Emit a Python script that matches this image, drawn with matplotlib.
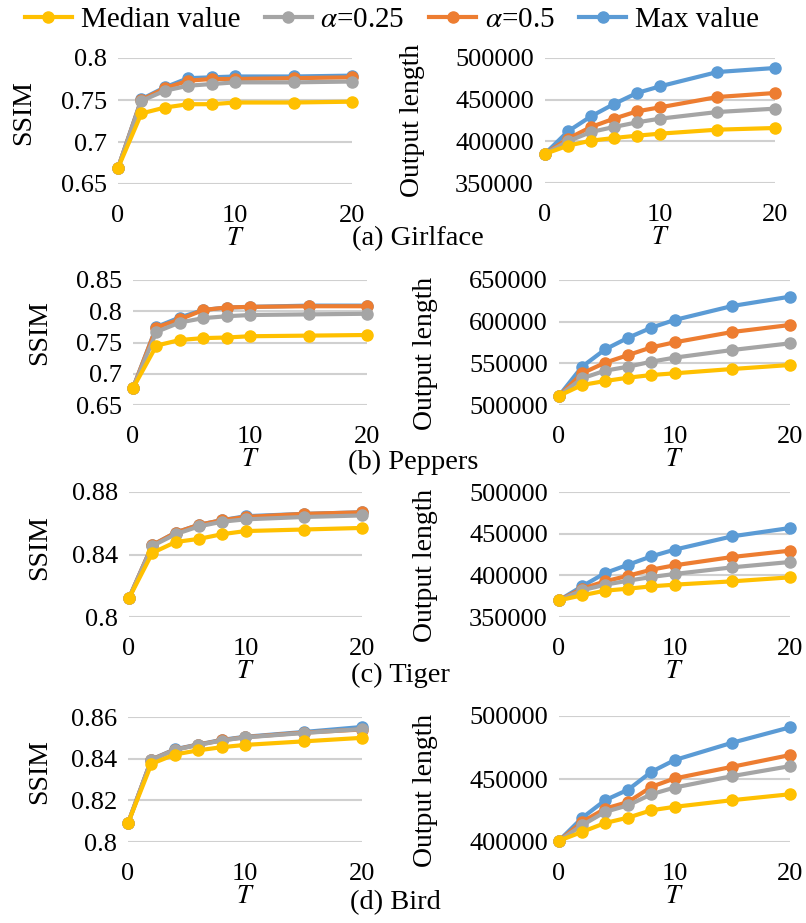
import numpy as np
import matplotlib
matplotlib.use("Agg")
import matplotlib.pyplot as plt

plt.rcParams['font.family'] = ['Liberation Serif', 'DejaVu Serif']
plt.rcParams['mathtext.fontset'] = 'stix'

T = [0, 2, 4, 6, 8, 10, 15, 20]
series_names = ['Median value', r'$\alpha$=0.25', r'$\alpha$=0.5', 'Max value']
colors = ['#FFC000', '#A5A5A5', '#ED7D31', '#5B9BD5']
images = ['(a) Girlface', '(b) Peppers', '(c) Tiger', '(d) Bird']

# SSIM, order: median, a=0.25, a=0.5, max
ssim_girlface = [
    [0.669, 0.734, 0.741, 0.745, 0.745, 0.747, 0.747, 0.748],
    [0.669, 0.749, 0.761, 0.767, 0.769, 0.771, 0.771, 0.772],
    [0.669, 0.750, 0.764, 0.773, 0.775, 0.775, 0.776, 0.777],
    [0.669, 0.751, 0.765, 0.776, 0.777, 0.778, 0.778, 0.779],
]
ssim_peppers = [
    [0.677, 0.745, 0.754, 0.757, 0.758, 0.760, 0.761, 0.762],
    [0.677, 0.767, 0.782, 0.789, 0.792, 0.794, 0.795, 0.796],
    [0.677, 0.774, 0.787, 0.802, 0.806, 0.807, 0.808, 0.808],
    [0.677, 0.775, 0.790, 0.802, 0.806, 0.807, 0.809, 0.809],
]
ssim_tiger = [
    [0.812, 0.841, 0.848, 0.850, 0.853, 0.855, 0.856, 0.857],
    [0.812, 0.8455, 0.853, 0.858, 0.861, 0.8625, 0.864, 0.865],
    [0.812, 0.846, 0.854, 0.859, 0.862, 0.864, 0.866, 0.867],
    [0.812, 0.846, 0.854, 0.859, 0.862, 0.8645, 0.866, 0.867],
]
ssim_bird = [
    [0.809, 0.8375, 0.842, 0.844, 0.8455, 0.8466, 0.8483, 0.850],
    [0.809, 0.8394, 0.8442, 0.8466, 0.8487, 0.8502, 0.8523, 0.8542],
    [0.809, 0.8395, 0.8443, 0.8467, 0.8488, 0.8503, 0.8525, 0.854],
    [0.809, 0.8396, 0.8445, 0.8468, 0.849, 0.8505, 0.8528, 0.8552],
]

# output length
len_girlface = [
    [385000, 394800, 400800, 404000, 406800, 409200, 414000, 416000],
    [385000, 400000, 411200, 417200, 422800, 427200, 435200, 439200],
    [385000, 403200, 417200, 427200, 436000, 440800, 453200, 458000],
    [385000, 412000, 430000, 444800, 458000, 466000, 483200, 488000],
]
len_peppers = [
    [511000, 524000, 528800, 532800, 536000, 538000, 543200, 548000],
    [511000, 532000, 541200, 546000, 552000, 556800, 566000, 574000],
    [511000, 538000, 550800, 560000, 569200, 575200, 587600, 596000],
    [511000, 546000, 566800, 580800, 592800, 602000, 618800, 630000],
]
len_tiger = [
    [370000, 376000, 381600, 384000, 386800, 388800, 392800, 397600],
    [370000, 382000, 388800, 393600, 398000, 401600, 409600, 416000],
    [370000, 384000, 392800, 399600, 406800, 412000, 422000, 429600],
    [370000, 386800, 402800, 412800, 422800, 430800, 446800, 456800],
]
len_bird = [
    [401000, 408000, 415100, 419400, 425200, 427900, 433200, 437900],
    [401000, 413300, 423900, 429200, 437900, 443200, 452300, 460200],
    [401000, 415900, 426500, 431800, 443800, 450400, 459700, 469000],
    [401000, 419100, 433200, 441600, 455700, 465000, 478800, 491000],
]

ssim_data = [ssim_girlface, ssim_peppers, ssim_tiger, ssim_bird]
len_data = [len_girlface, len_peppers, len_tiger, len_bird]
ssim_ticks = [[0.65, 0.7, 0.75, 0.8], [0.65, 0.7, 0.75, 0.8, 0.85],
              [0.8, 0.84, 0.88], [0.8, 0.82, 0.84, 0.86]]
len_ticks = [[350000, 400000, 450000, 500000], [500000, 550000, 600000, 650000],
             [350000, 400000, 450000, 500000], [400000, 450000, 500000]]

W, H = 806, 923
# pixel boxes: (x0, x1, ytop, ybottom)
left_boxes = [(118, 352, 58, 184), (133, 367, 280, 405),
              (129, 362, 492, 617), (128, 362, 717, 842)]
right_boxes = [(545, 775, 58, 183), (559, 790, 280, 405),
               (559, 790, 492, 617), (559, 790, 716, 842)]
ssim_lab = [(24, 113), (40, 333), (40, 548), (40, 772)]
len_lab = [(412, 120), (425, 353), (425, 565), (425, 790)]
captions = [(418, 239), (413, 462), (400, 675), (395, 903)]

FS = 19

fig = plt.figure(figsize=(W / 100, H / 100), dpi=100)


def make_ax(box):
    x0, x1, yt, yb = box
    return fig.add_axes([x0 / W, 1 - yb / H, (x1 - x0) / W, (yb - yt) / H])


def style(ax, yticks, fmt):
    ax.set_xlim(0, 20)
    ax.set_ylim(yticks[0], yticks[-1])
    ax.set_xticks([0, 10, 20])
    ax.set_yticks(yticks)
    ax.set_yticklabels([fmt(v) for v in yticks])
    for s in ax.spines.values():
        s.set_visible(False)
    ax.grid(axis='y', color='#D0D0D0', lw=1.5)
    ax.set_axisbelow(True)
    ax.tick_params(length=0, labelsize=FS)
    ax.tick_params(axis='x', pad=15)
    ax.tick_params(axis='y', pad=8)
    ax.set_xlabel(r'$T$', fontsize=FS, labelpad=1)


handles = []
for i in range(4):
    axl = make_ax(left_boxes[i])
    axr = make_ax(right_boxes[i])
    for k in [3, 2, 1, 0]:
        h, = axl.plot(T, ssim_data[i][k], color=colors[k], lw=3, marker='o',
                      ms=8, clip_on=False, zorder=3 + 4 - k)
        axr.plot(T, len_data[i][k], color=colors[k], lw=3, marker='o',
                 ms=8, clip_on=False, zorder=3 + 4 - k)
        if i == 0:
            handles.append((k, h))
    style(axl, ssim_ticks[i], lambda v: f'{v:g}')
    style(axr, len_ticks[i], lambda v: f'{int(v)}')
    fig.text(ssim_lab[i][0] / W, 1 - ssim_lab[i][1] / H, 'SSIM', rotation=90,
             ha='center', va='center', fontsize=FS + 1)
    fig.text(len_lab[i][0] / W, 1 - len_lab[i][1] / H, 'Output length',
             rotation=90, ha='center', va='center', fontsize=FS + 1)
    fig.text(captions[i][0] / W, 1 - captions[i][1] / H, images[i],
             ha='center', va='center', fontsize=FS + 1.5)

handles = [h for k, h in sorted(handles)]
fig.legend(handles, series_names, loc='center', bbox_to_anchor=(392 / W, 1 - 20 / H),
           ncol=4, frameon=False, fontsize=21, handlelength=1.6,
           columnspacing=0.85, handletextpad=0.3, borderaxespad=0, borderpad=0)

fig.savefig('out.png', dpi=100)
